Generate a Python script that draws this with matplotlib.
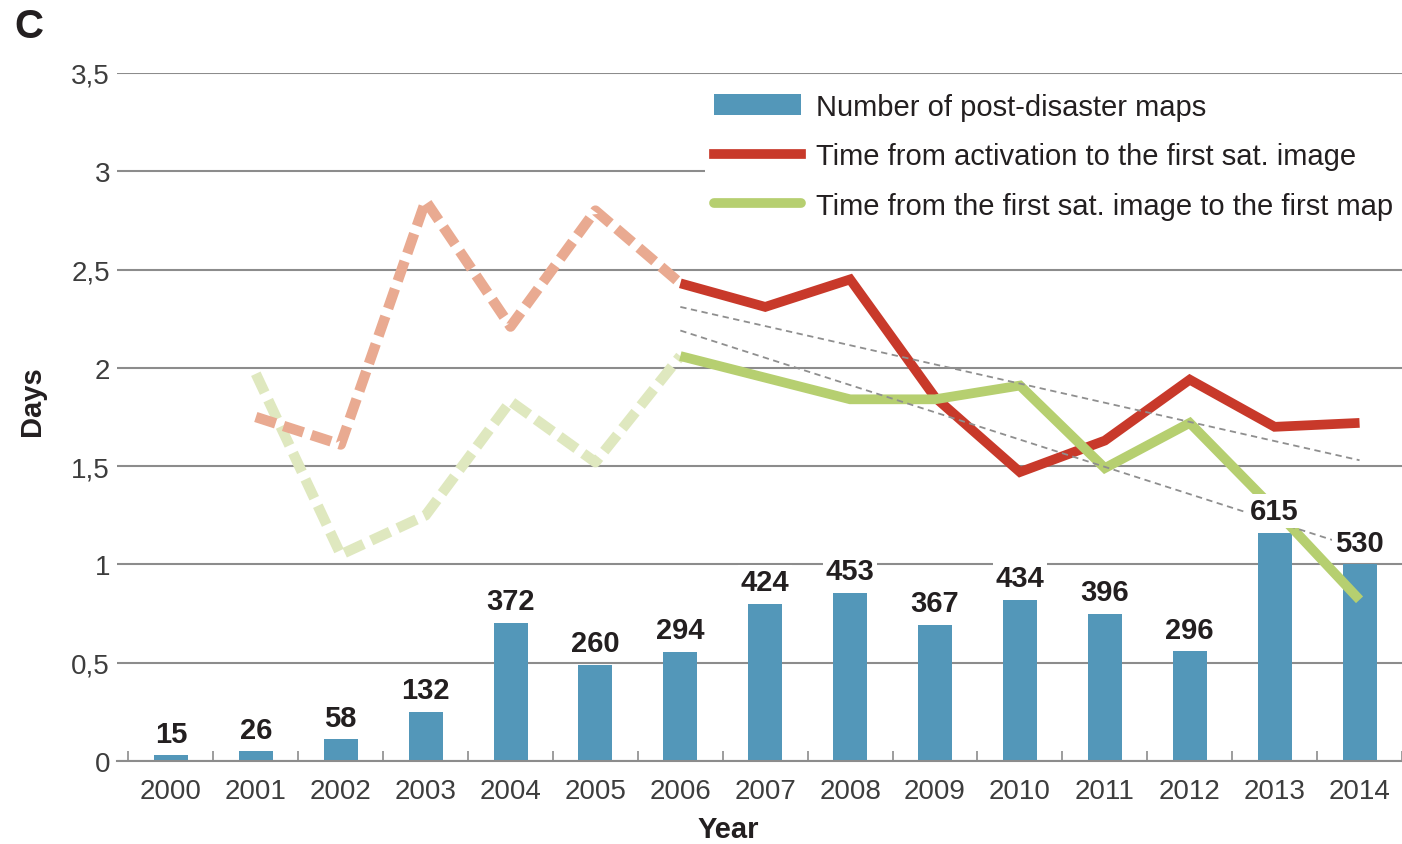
import matplotlib.pyplot as plt
from matplotlib.lines import Line2D
from matplotlib.patches import Patch

plt.rcParams['font.family'] = ['Liberation Sans', 'DejaVu Sans']

# data
years = [2000, 2001, 2002, 2003, 2004, 2005, 2006, 2007, 2008, 2009, 2010, 2011, 2012, 2013, 2014]
maps = [15, 26, 58, 132, 372, 260, 294, 424, 453, 367, 434, 396, 296, 615, 530]
maps_per_day_unit = 530  # bar of 530 maps reaches 1 on the Days axis

early_years = [2001, 2002, 2003, 2004, 2005, 2006]
red_early = [1.75, 1.61, 2.85, 2.21, 2.80, 2.43]
green_early = [1.97, 1.05, 1.25, 1.83, 1.52, 2.06]

late_years = [2006, 2007, 2008, 2009, 2010, 2011, 2012, 2013, 2014]
red_late = [2.43, 2.31, 2.45, 1.85, 1.47, 1.63, 1.94, 1.70, 1.72]
green_late = [2.06, 1.95, 1.84, 1.84, 1.91, 1.49, 1.72, 1.28, 0.82]

trend_years = [2006, 2014]
trend_red = [2.31, 1.53]
trend_green = [2.19, 1.08]

yticks = [0, 0.5, 1, 1.5, 2, 2.5, 3, 3.5]
ytick_labels = ['0', '0,5', '1', '1,5', '2', '2,5', '3', '3,5']

blue = '#5397b9'
red = '#c8392a'
green = '#b6cf70'
red_faded = '#e9aa91'
green_faded = '#dfe8bf'
grid_grey = '#8c8c8c'
text_dark = '#231f20'

fig = plt.figure(figsize=(14.02, 8.45), dpi=100)
ax = fig.add_axes([117 / 1402, 83 / 845, 1285 / 1402, 688 / 845])

# bars
heights = [m / maps_per_day_unit for m in maps]
ax.bar(years, heights, width=0.4, color=blue, zorder=2)
for x, h, m in zip(years, heights, maps):
    ax.annotate(str(m), (x, h), xytext=(0, 5.5), textcoords='offset points',
                ha='center', va='bottom', fontsize=21, fontweight='bold',
                color=text_dark, zorder=6,
                bbox=dict(boxstyle='square,pad=0.1', fc='white', ec='none'))

# faded dashed early years
ax.plot(early_years, green_early, color=green_faded, lw=7.5, ls=(0, (2.0, 0.8)), zorder=3)
ax.plot(early_years, red_early, color=red_faded, lw=7.5, ls=(0, (2.0, 0.8)), zorder=3)

# solid recent years
ax.plot(late_years, red_late, color=red, lw=7, solid_joinstyle='miter',
        solid_capstyle='butt', zorder=3)
ax.plot(late_years, green_late, color=green, lw=7, solid_joinstyle='miter',
        solid_capstyle='butt', zorder=3)

# trend lines
ax.plot(trend_years, trend_red, color='#8f8f8f', lw=1.3, ls=(0, (3.5, 2.5)), zorder=4)
ax.plot(trend_years, trend_green, color='#8f8f8f', lw=1.3, ls=(0, (3.5, 2.5)), zorder=4)

# axes
ax.set_xlim(1999.365, 2014.5)
ax.set_ylim(0, 3.5)
ax.set_yticks(yticks)
ax.set_yticklabels(ytick_labels)
ax.set_xticks(years)
ax.set_xticks([y - 0.5 for y in years] + [years[-1] + 0.5], minor=True)
ax.tick_params(axis='y', length=0, pad=5, labelsize=20, labelcolor='#3d3d3d')
ax.tick_params(axis='x', which='major', length=0, pad=12.5, labelsize=20, labelcolor='#3d3d3d')
ax.tick_params(axis='x', which='minor', direction='in', length=7, width=1.2, color=grid_grey)

ax.yaxis.grid(True, color=grid_grey, lw=1.5)
ax.set_axisbelow(True)
for side in ['top', 'right', 'left']:
    ax.spines[side].set_visible(False)
ax.spines['bottom'].set_color(grid_grey)
ax.spines['bottom'].set_linewidth(1.5)

ax.set_ylabel('Days', fontsize=21, fontweight='bold', color=text_dark)
ax.yaxis.set_label_coords(-0.055, 0.525)
ax.set_xlabel('Year', fontsize=21, fontweight='bold', color=text_dark)
ax.xaxis.set_label_coords(0.4755, -0.099)
ax.xaxis.label.set_va('center')

fig.text(14 / 1402, 1 - 8 / 845, 'C', fontsize=29, fontweight='bold', va='top', color=text_dark)

handles = [
    Patch(facecolor=blue, edgecolor='none', label='Number of post-disaster maps'),
    Line2D([], [], color=red, lw=7, label='Time from activation to the first sat. image'),
    Line2D([], [], color=green, lw=7, solid_capstyle='round',
           label='Time from the first sat. image to the first map'),
]
leg = ax.legend(handles=handles, loc='upper left', bbox_to_anchor=(705 / 1402, 1 - 85 / 845),
                bbox_transform=fig.transFigure, borderaxespad=0, borderpad=0.3,
                fontsize=21, handlelength=3.0, handleheight=0.75, handletextpad=0.5,
                labelspacing=0.74, frameon=True, fancybox=False, framealpha=1,
                facecolor='white', edgecolor='none', labelcolor=text_dark)

fig.savefig('out.png', dpi=100)
